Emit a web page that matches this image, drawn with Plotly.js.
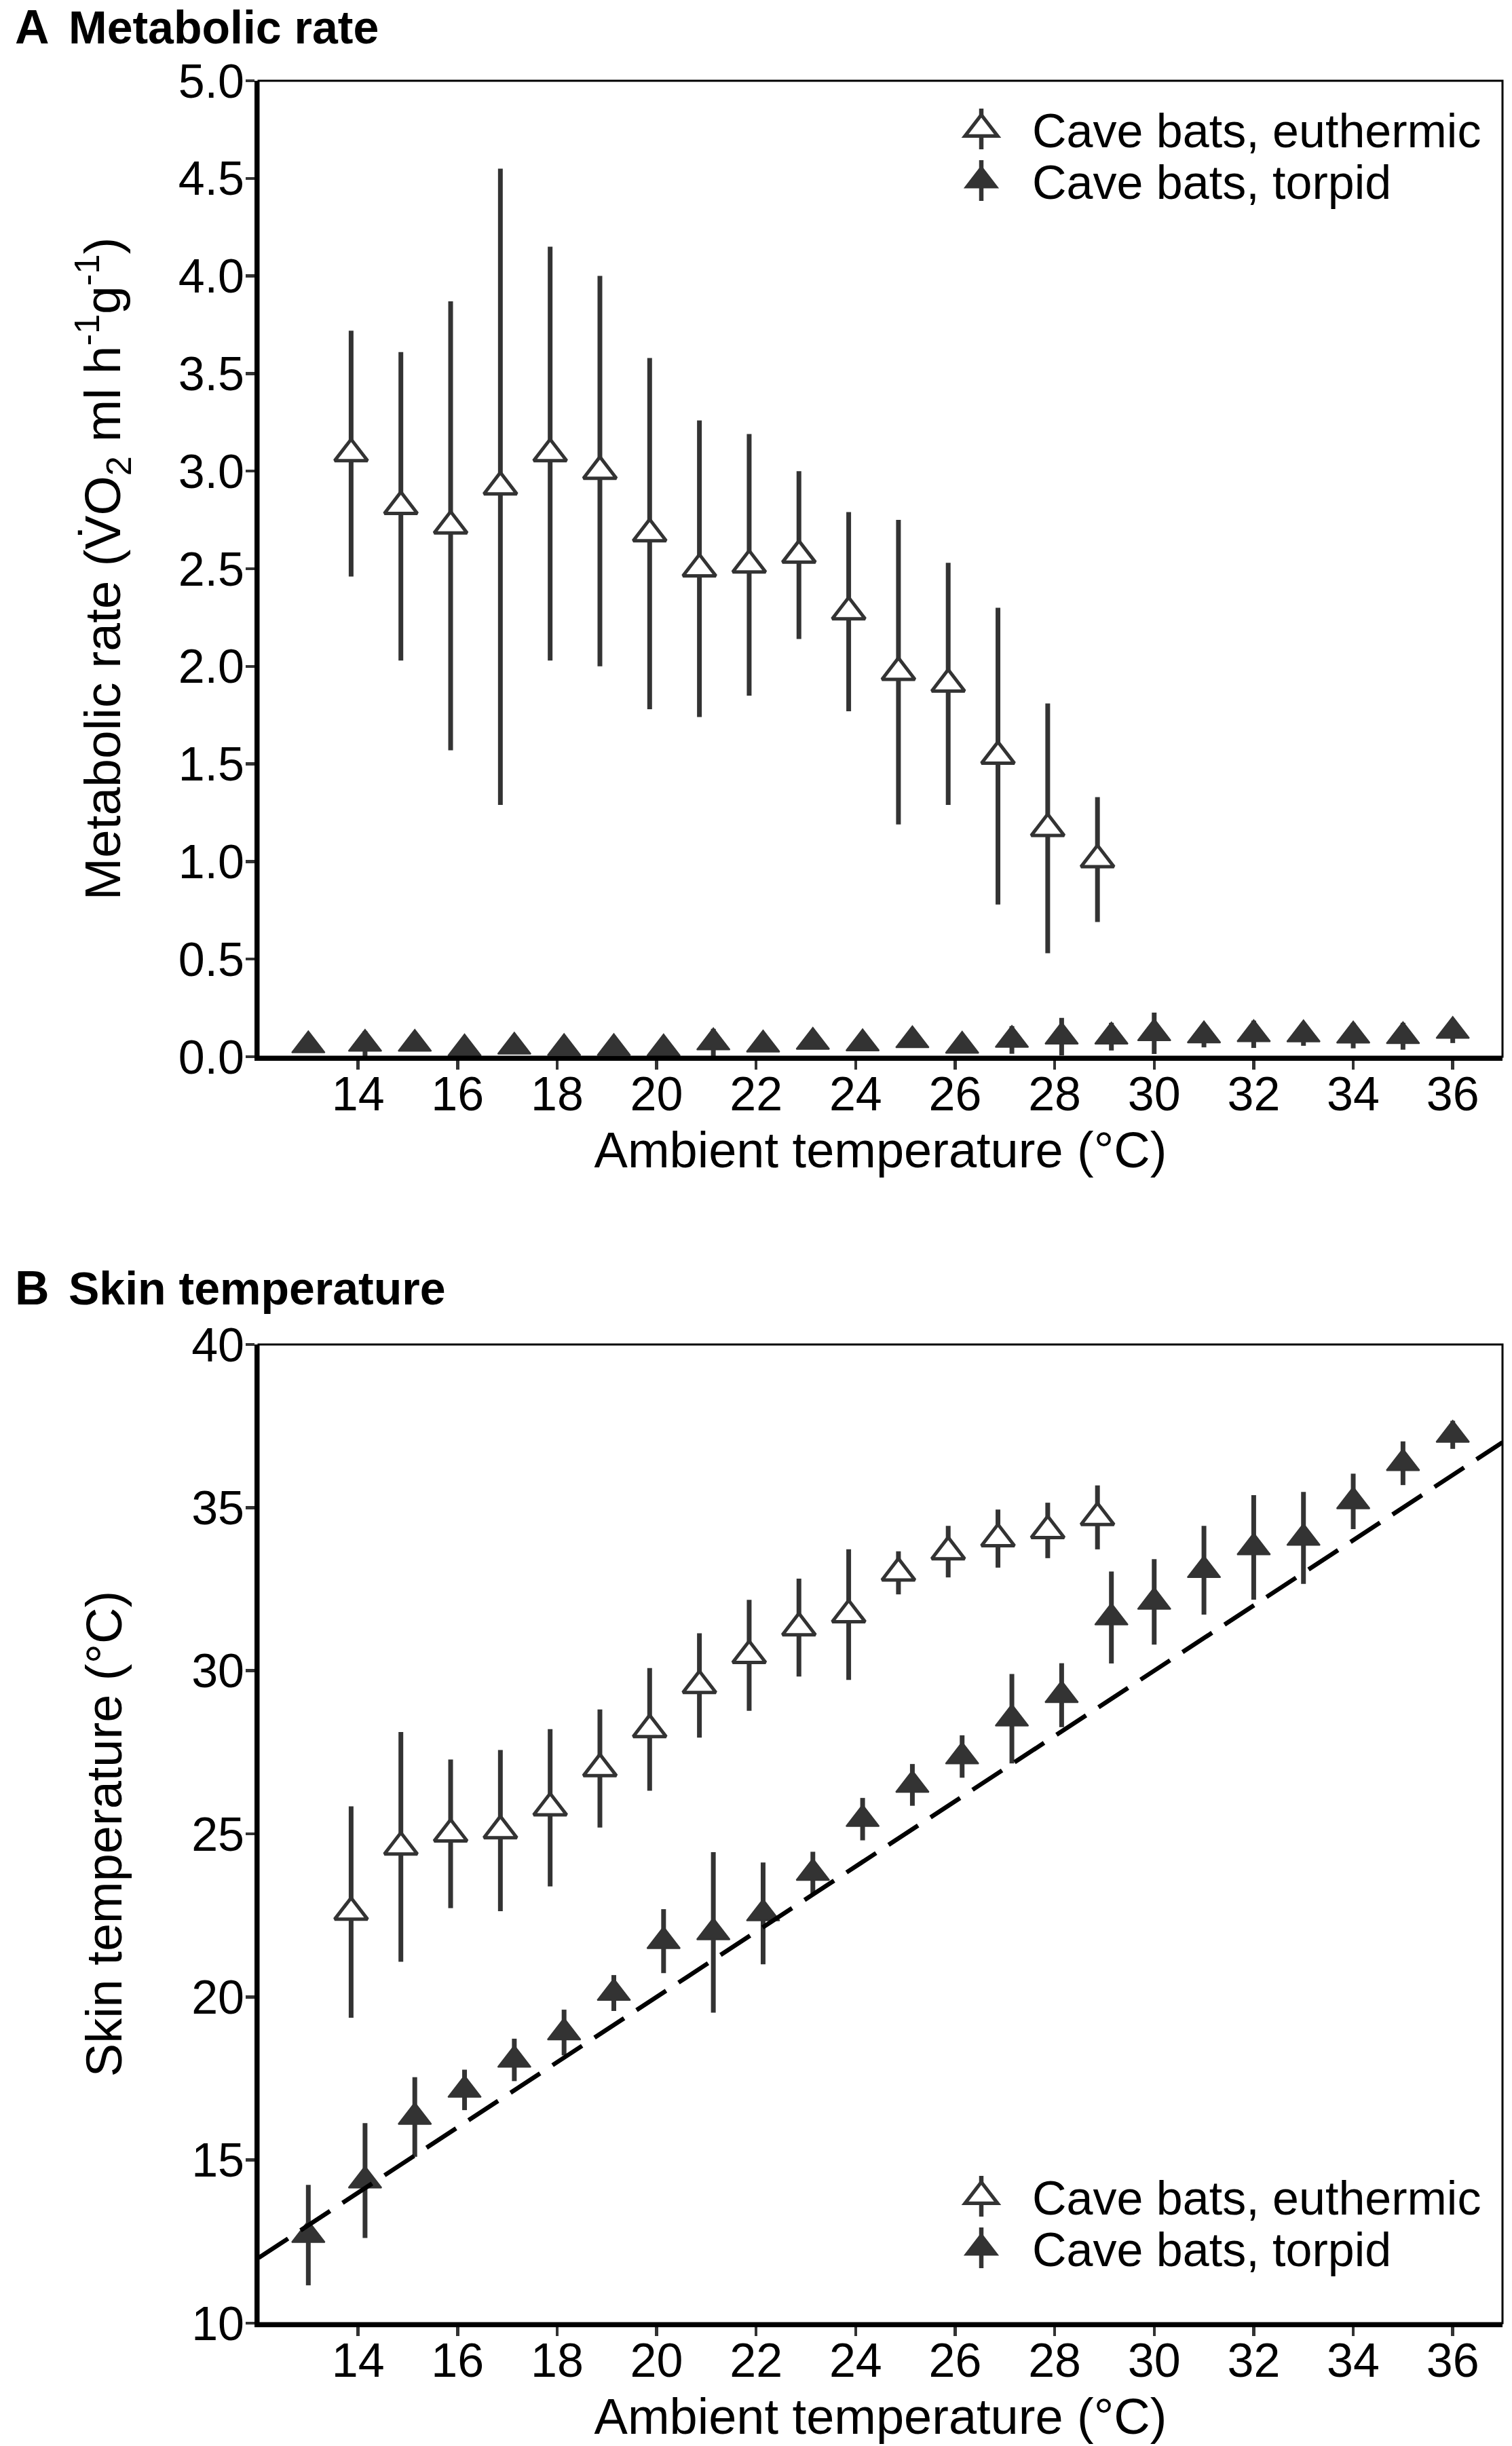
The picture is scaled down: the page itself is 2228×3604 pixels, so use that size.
<!DOCTYPE html>
<html>
<head>
<meta charset="utf-8">
<script src="https://cdn.plot.ly/plotly-3.0.1.min.js"></script>
<style>
html, body { margin: 0; padding: 0; background: #fff; }
#chart { width: 2228px; height: 3604px; }
</style>
</head>
<body>
<div id="chart"></div>
<script>
// ambient temperatures (°C)
const ambientEu = [14, 15, 16, 17, 18, 19, 20, 21, 22, 23, 24, 25, 26, 27, 28, 29]
const ambientTo = [13, 14, 15, 16, 17, 18, 19, 20, 21, 22, 23, 24, 25, 26, 27, 28, 29, 30, 31, 32, 33, 34, 35, 36]

// A: metabolic rate, mean and SD
const metabEu = [3.09, 2.82, 2.72, 2.92, 3.09, 3.00, 2.68, 2.50, 2.52, 2.57, 2.28, 1.97, 1.91, 1.54, 1.17, 1.01]
const metabEuSd = [0.63, 0.79, 1.15, 1.63, 1.06, 1.00, 0.90, 0.76, 0.67, 0.43, 0.51, 0.78, 0.62, 0.76, 0.64, 0.32]
const metabTo = [0.058, 0.066, 0.066, 0.042, 0.051, 0.044, 0.044, 0.042, 0.073, 0.062, 0.076, 0.068,
	0.084, 0.056, 0.086, 0.103, 0.103, 0.120, 0.109, 0.115, 0.114, 0.108, 0.105, 0.132]
const metabToSd = [0.03, 0.065, 0.03, 0.03, 0.03, 0.03, 0.03, 0.03, 0.07, 0.03, 0.03, 0.03,
	0.03, 0.03, 0.071, 0.096, 0.071, 0.106, 0.061, 0.070, 0.058, 0.065, 0.069, 0.062]

// B: skin temperature, mean and SD
const skinEu = [22.6, 24.6, 25.0, 25.1, 25.8, 27.0, 28.2, 29.55, 30.47, 31.32, 31.72, 33.0, 33.65, 34.05, 34.3, 34.7]
const skinEuSd = [3.24, 3.52, 2.28, 2.47, 2.41, 1.81, 1.88, 1.60, 1.70, 1.50, 2.00, 0.66, 0.79, 0.89, 0.85, 0.98]
const skinTo = [12.7, 14.37, 16.32, 17.15, 18.07, 18.91, 20.12, 21.71, 21.98, 22.56, 23.8, 25.45,
	26.5, 27.37, 28.53, 29.25, 31.63, 32.11, 33.08, 33.78, 34.07, 35.19, 36.36, 37.23]
const skinToSd = [1.54, 1.76, 1.22, 0.62, 0.65, 0.70, 0.55, 0.98, 2.46, 1.56, 0.65, 0.65,
	0.64, 0.65, 1.37, 0.98, 1.41, 1.31, 1.36, 1.60, 1.41, 0.85, 0.67, 0.43]

// line of identity (skin = ambient)
const identityX = [12, 37]
const identityY = [12, 37]

const xTicks = [14, 16, 18, 20, 22, 24, 26, 28, 30, 32, 34, 36]
const yTicksA = [0, 0.5, 1, 1.5, 2, 2.5, 3, 3.5, 4, 4.5, 5]
const yTicksB = [10, 15, 20, 25, 30, 35, 40]
const seriesNames = ['Cave bats, euthermic', 'Cave bats, torpid']

const INK = '#333333'
const FONT = 'Arial, "Liberation Sans", Helvetica, sans-serif'
const W = 2228, H = 3604

// ggplot style dodge: shift only where both groups share an x
const DODGE = 0.14
const dodge = (xs, other, sign) => xs.map(x => other.includes(x) ? x + sign * DODGE : x)

const openTri = { symbol: 'triangle-up', size: 42, color: 'white', line: { color: INK, width: 5 } }
const fillTri = { symbol: 'triangle-up', size: 42, color: INK, line: { color: INK, width: 2 } }
const errBar = sd => ({ type: 'data', array: sd, visible: true, width: 0, thickness: 7, color: INK })

const traces = [
	{ x: dodge(ambientEu, ambientTo, -1), y: metabEu, error_y: errBar(metabEuSd), mode: 'markers',
		marker: openTri, name: seriesNames[0], xaxis: 'x', yaxis: 'y', legend: 'legend', type: 'scatter' },
	{ x: dodge(ambientTo, ambientEu, 1), y: metabTo, error_y: errBar(metabToSd), mode: 'markers',
		marker: fillTri, name: seriesNames[1], xaxis: 'x', yaxis: 'y', legend: 'legend2', type: 'scatter' },
	{ x: dodge(ambientEu, ambientTo, -1), y: skinEu, error_y: errBar(skinEuSd), mode: 'markers',
		marker: openTri, name: seriesNames[0], xaxis: 'x2', yaxis: 'y2', legend: 'legend3', type: 'scatter' },
	{ x: dodge(ambientTo, ambientEu, 1), y: skinTo, error_y: errBar(skinToSd), mode: 'markers',
		marker: fillTri, name: seriesNames[1], xaxis: 'x2', yaxis: 'y2', legend: 'legend4', type: 'scatter' },
	{ x: identityX, y: identityY, mode: 'lines', line: { color: 'black', width: 6.5, dash: '52px,22px' },
		showlegend: false, xaxis: 'x2', yaxis: 'y2', type: 'scatter', hoverinfo: 'skip' },
]

const xDomain = [381 / W, 2214 / W]
const axisBase = {
	showgrid: false, zeroline: false, showline: true, linecolor: 'black', linewidth: 6,
	ticks: 'outside', ticklen: 13, tickwidth: 4.5, tickcolor: INK,
	tickfont: { size: 70, color: 'black', family: FONT },
}
const xAxis = (anchor) => ({
	...axisBase, anchor, domain: xDomain, range: [12, 37], ticklabelstandoff: -24,
	tickmode: 'array', tickvals: xTicks, ticktext: xTicks.map(String),
	title: { text: 'Ambient temperature (°C)', font: { size: 74, color: 'black', family: FONT }, standoff: 20 },
})

// one legend box per entry so rows sit as tight as in the original
const legendAt = (yCenterPx) => ({
	bgcolor: 'rgba(0,0,0,0)', borderwidth: 0, font: { size: 70, color: 'black', family: FONT },
	itemwidth: 140, xanchor: 'left', yanchor: 'top', x: 1371 / W, y: 1 - (yCenterPx - 57) / H,
})

const panelTitle = (letter, text, yPx) => [
	{ text: `<b>${letter}</b>`, x: 20 / W, y: 1 - yPx / H, xref: 'paper', yref: 'paper',
		xanchor: 'left', yanchor: 'middle', showarrow: false, font: { size: 70, color: 'black', family: FONT } },
	{ text: `<b>${text}</b>`, x: 99 / W, y: 1 - yPx / H, xref: 'paper', yref: 'paper',
		xanchor: 'left', yanchor: 'middle', showarrow: false, font: { size: 68, color: 'black', family: FONT } },
]

const layout = {
	width: W, height: H,
	margin: { l: 0, r: 0, t: 0, b: 0 },
	paper_bgcolor: 'white', plot_bgcolor: 'white',
	font: { family: FONT, color: 'black' },
	xaxis: xAxis('y'),
	yaxis: {
		...axisBase, anchor: 'x', domain: [1 - 1557 / H, 1 - 119 / H], range: [0, 5], ticklabelstandoff: -12,
		tickmode: 'array', tickvals: yTicksA, ticktext: yTicksA.map(v => v.toFixed(1)),
		title: { text: 'Metabolic rate (V\u0307O<sub>2</sub> ml h<sup>-1</sup>g<sup>-1</sup>)',
			font: { size: 75, color: 'black', family: FONT }, standoff: 62 },
	},
	xaxis2: xAxis('y2'),
	yaxis2: {
		...axisBase, anchor: 'x2', domain: [1 - 3423 / H, 1 - 1981 / H], range: [10, 40], ticklabelstandoff: -12,
		tickmode: 'array', tickvals: yTicksB, ticktext: yTicksB.map(String),
		title: { text: 'Skin temperature (°C)', font: { size: 74, color: 'black', family: FONT }, standoff: 80 },
	},
	legend: legendAt(195),
	legend2: legendAt(271),
	legend3: legendAt(3241),
	legend4: legendAt(3317),
	shapes: ['', '2'].map(s => ({
		type: 'rect', xref: `x${s} domain`, yref: `y${s} domain`, x0: 0, x1: 1, y0: 0, y1: 1,
		line: { color: 'black', width: 3 }, layer: 'above',
	})),
	annotations: [...panelTitle('A', 'Metabolic rate', 40), ...panelTitle('B', 'Skin temperature', 1898)],
}

Plotly.newPlot('chart', traces, layout, { staticPlot: true }).then(gd => {
	// legend symbols are capped at 16px by plotly; blow them up to the plotted size
	// and give them the short range bar that the original key shows
	gd.querySelectorAll('.legendpoints path.scatterpts').forEach(p => {
		const open = p.style.fill === 'rgb(255, 255, 255)' || p.style.fill === 'white'
		const base = p.getAttribute('transform') || ''
		const bar = document.createElementNS('http://www.w3.org/2000/svg', 'path')
		bar.setAttribute('d', 'M0,-30V30')
		bar.setAttribute('transform', base)
		bar.style.stroke = INK
		bar.style.strokeWidth = '6.5px'
		p.parentNode.insertBefore(bar, p)
		p.setAttribute('transform', base + ' scale(2.6)')
		p.style.strokeWidth = open ? '2px' : '0.8px'
	})
})
</script>
</body>
</html>
